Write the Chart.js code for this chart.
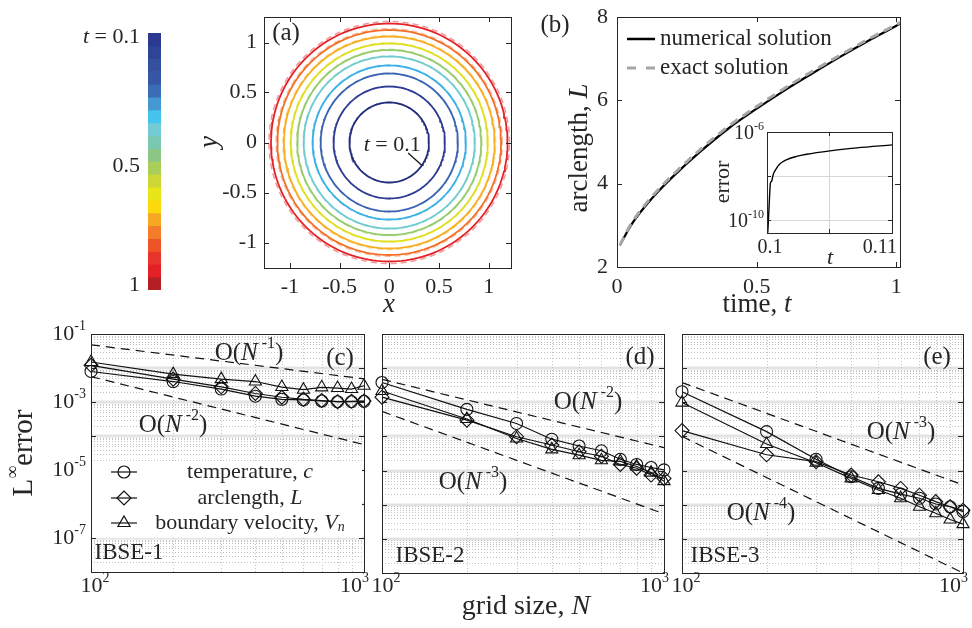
<!DOCTYPE html>
<html>
<head>
<meta charset="utf-8">
<script src="https://cdn.jsdelivr.net/npm/chart.js@4.4.0/dist/chart.umd.min.js"></script>
<style>
html, body { margin: 0; padding: 0; background: #fff; }
#wrap { position: relative; width: 972px; height: 628px; overflow: hidden; background: #fff; }
#wrap canvas { position: absolute; left: 0; top: 0; }
</style>
</head>
<body>
<div id="wrap">
  <canvas id="cbar" width="972" height="628"></canvas>
  <canvas id="panelA" width="972" height="628"></canvas>
  <canvas id="panelB" width="972" height="628"></canvas>
  <canvas id="inset" width="972" height="628"></canvas>
  <canvas id="panelC" width="972" height="628"></canvas>
  <canvas id="panelD" width="972" height="628"></canvas>
  <canvas id="panelE" width="972" height="628"></canvas>
</div>
<script>
// ---- data ----
// colorbar, t = 0.1 (top) .. 1 (bottom)
const cbColors = ['#2b3990', '#2e4496', '#32509e', '#3557a5', '#3a6db5', '#4499d3', '#45c5ee', '#73cbd8',
  '#7bc8b2', '#8bc784', '#a9cf5a', '#cbd835', '#e8e618', '#fcd90a', '#f7a823', '#f47d2a',
  '#ef5427', '#e8342b', '#e42027', '#b41f25'];
const cbTickPos = [0.3, 10.35, 19.6];
const cbTickText = [[['t', 'i'], [' = 0.1']], [['0.5']], [['1']]];

// (a) interface radius at t = 0.1, 0.2, ..., 1
const aRadius = [0.40, 0.56, 0.69, 0.77, 0.86, 0.925, 0.99, 1.06, 1.125, 1.19];
const aExactRadius = [0.40, 0.562, 0.693, 0.775, 0.866, 0.932, 0.998, 1.07, 1.138, 1.21];
const aColors = ['#222d7d', '#2e3c94', '#3a63b3', '#3ab0e6', '#6fcbcf', '#96cb6a', '#e0df1f', '#f8ad1f', '#f16f27', '#e42127'];
const aTicks = [-1, -0.5, 0, 0.5, 1];

// (b) arclength vs time
const bTime = [0.01, 0.05, 0.1, 0.15, 0.2, 0.3, 0.4, 0.5, 0.6, 0.7, 0.8, 0.9, 1.0, 1.013];
const bNumL = [2.52, 3.0, 3.45, 3.83, 4.17, 4.78, 5.33, 5.80, 6.24, 6.65, 7.05, 7.43, 7.79, 7.84];
const bExactL = [2.52, 3.03, 3.49, 3.87, 4.21, 4.83, 5.38, 5.85, 6.29, 6.70, 7.09, 7.47, 7.82, 7.87];
const bTicksX = [0, 0.5, 1];
const bTicksY = [2, 4, 6, 8];

// inset error
const insT = [0.10006, 0.10016, 0.10027, 0.10038, 0.10048, 0.10075, 0.10102, 0.10156, 0.10236, 0.10317, 0.10504, 0.10718, 0.11];
const insErr = [2.7e-11, 3.4e-10, 4.7e-9, 6.0e-9, 1.1e-8, 2.2e-8, 3.5e-8, 5.5e-8, 7.8e-8, 9.8e-8, 1.4e-7, 1.9e-7, 2.6e-7];

// (c)-(e) convergence
const gridN = [100, 200, 300, 400, 500, 600, 700, 800, 900, 1000];
const cTemp = [7.9e-3, 4.0e-3, 2.4e-3, 1.48e-3, 1.2e-3, 1.15e-3, 1.07e-3, 1.02e-3, 1.02e-3, 1.05e-3];
const cArc = [1.2e-2, 4.7e-3, 2.8e-3, 1.78e-3, 1.38e-3, 1.2e-3, 1.1e-3, 1.02e-3, 1.05e-3, 1.07e-3];
const cVel = [1.5e-2, 6.6e-3, 4.7e-3, 4.0e-3, 2.75e-3, 2.3e-3, 2.7e-3, 2.57e-3, 2.4e-3, 3.0e-3];
const dTemp = [3.8e-3, 6.2e-4, 2.4e-4, 8.3e-5, 5.25e-5, 3.8e-5, 2.14e-5, 1.51e-5, 1.23e-5, 1.05e-5];
const dArc = [1.41e-3, 3.0e-4, 9.8e-5, 5.6e-5, 3.55e-5, 2.63e-5, 1.51e-5, 1.17e-5, 7.4e-6, 5.9e-6];
const dVel = [2.14e-3, 3.24e-4, 8.7e-5, 4.17e-5, 2.82e-5, 2.0e-5, 1.86e-5, 1.32e-5, 8.7e-6, 4.9e-6];
const eTemp = [2.04e-3, 1.38e-4, 2.14e-5, 6.6e-6, 3.0e-6, 2.04e-6, 1.55e-6, 1.05e-6, 8.7e-7, 6.3e-7];
const eArc = [1.48e-4, 2.9e-5, 1.82e-5, 7.4e-6, 4.7e-6, 3.0e-6, 1.9e-6, 1.23e-6, 8.7e-7, 6.9e-7];
const eVel = [9.8e-4, 6.0e-5, 1.7e-5, 5.9e-6, 2.7e-6, 1.55e-6, 8.7e-7, 5.6e-7, 3.7e-7, 2.7e-7];
// reference slopes, value at N = 100 and N = 1000
const cRef1 = [4.8e-2, 4.8e-3];
const cRef2 = [5.6e-3, 5.6e-5];
const dRef1 = [4.7e-3, 4.7e-5];
const dRef2 = [5.4e-4, 5.4e-7];
const eRef1 = [3.8e-3, 3.8e-6];
const eRef2 = [1e-4, 1e-8];
const logYTicks = [1e-1, 1e-3, 1e-5, 1e-7];
const logYExp = ['-1', '-3', '-5', '-7'];
const logXTicks = [100, 1000];
const logXExp = ['2', '3'];

// ---- drawing helpers ----
const SERIF = '"Liberation Serif", "Times New Roman", serif';
const INK = '#262626';
const W = 972, H = 628;

function seg(ctx, x1, y1, x2, y2) {
  ctx.beginPath(); ctx.moveTo(x1, y1); ctx.lineTo(x2, y2); ctx.stroke();
}

// parts: [text, style]; style letters: i = italic, s = superscript, b = subscript
function txt(ctx, x, y, parts, size, align, opt) {
  opt = opt || {};
  ctx.save();
  ctx.translate(x, y);
  if (opt.rot) ctx.rotate(opt.rot);
  const segs = parts.map(p => {
    const st = p[1] || '';
    const small = st.indexOf('s') >= 0 || st.indexOf('b') >= 0;
    const fs = small ? Math.round(size * 0.62) : size;
    const font = (st.indexOf('i') >= 0 ? 'italic ' : '') + fs + 'px ' + SERIF;
    ctx.font = font;
    let dy = 0;
    if (st.indexOf('s') >= 0) dy = -size * 0.36;
    if (st.indexOf('b') >= 0) dy = size * 0.2;
    return { t: p[0], font: font, w: ctx.measureText(p[0]).width, dy: dy };
  });
  const total = segs.reduce((s, g) => s + g.w, 0);
  let cx = align === 'right' ? -total : align === 'center' ? -total / 2 : 0;
  ctx.fillStyle = opt.color || INK;
  ctx.textBaseline = 'middle';
  segs.forEach(g => { ctx.font = g.font; ctx.fillText(g.t, cx, g.dy); cx += g.w; });
  ctx.restore();
}

function frame(chart, xTicks, yTicks, len) {
  const { ctx, chartArea: a, scales } = chart;
  ctx.save();
  ctx.strokeStyle = INK;
  ctx.lineWidth = 1;
  xTicks.forEach(v => {
    const p = Math.round(scales.x.getPixelForValue(v)) + 0.5;
    seg(ctx, p, a.bottom, p, a.bottom - len);
    seg(ctx, p, a.top, p, a.top + len);
  });
  yTicks.forEach(v => {
    const p = Math.round(scales.y.getPixelForValue(v)) + 0.5;
    seg(ctx, a.left, p, a.left + len, p);
    seg(ctx, a.right, p, a.right - len, p);
  });
  ctx.strokeRect(Math.round(a.left) + 0.5, Math.round(a.top) + 0.5,
    Math.round(a.right - a.left), Math.round(a.bottom - a.top));
  ctx.restore();
}

function make(id, area, type, data, scales, plugins) {
  return new Chart(document.getElementById(id), {
    type: type,
    data: data,
    options: {
      responsive: false,
      animation: false,
      devicePixelRatio: 1,
      events: [],
      layout: { padding: { left: area[0], top: area[1], right: W - area[2], bottom: H - area[3] } },
      plugins: { legend: { display: false }, tooltip: { enabled: false } },
      scales: scales
    },
    plugins: plugins || []
  });
}

function ring(r) {
  const pts = [];
  for (let k = 0; k <= 180; k++) {
    const th = k / 180 * 2 * Math.PI;
    pts.push({ x: r * Math.cos(th), y: r * Math.sin(th) });
  }
  return pts;
}

// ---- colorbar ----
make('cbar', [148, 33, 161, 290], 'bar', {
  labels: ['t'],
  datasets: cbColors.map(c => ({ data: [1], backgroundColor: c, borderWidth: 0, barPercentage: 1, categoryPercentage: 1 }))
}, {
  x: { display: false, stacked: true },
  y: { display: false, stacked: true, min: 0, max: 20, reverse: true }
}, [{
  id: 'cbLabels',
  afterDraw(chart) {
    const y = chart.scales.y;
    cbTickPos.forEach((v, i) => txt(chart.ctx, 140, y.getPixelForValue(v), cbTickText[i], 22, 'right'));
  }
}]);

// ---- (a) ----
const aSets = [];
aRadius.forEach((r, i) => aSets.push({
  data: ring(r), showLine: true, borderColor: aColors[i], borderWidth: 1.8, pointRadius: 0, tension: 0
}));
aExactRadius.forEach((r, i) => aSets.push({
  data: ring(r), showLine: true, borderColor: aColors[i] + '77', borderWidth: 1.5, borderDash: [6, 4], pointRadius: 0, tension: 0
}));
aSets.unshift({
  data: [{ x: 0.19, y: -0.105 }, { x: 0.33, y: -0.23 }], showLine: true, borderColor: '#111', borderWidth: 1.2, pointRadius: 0
});
make('panelA', [264, 17, 511, 268], 'scatter', { datasets: aSets }, {
  x: { type: 'linear', display: false, min: -1.26, max: 1.225 },
  y: { type: 'linear', display: false, min: -1.255, max: 1.255 }
}, [{
  id: 'aDecor',
  afterDraw(chart) {
    const { ctx, scales: { x, y } } = chart;
    frame(chart, aTicks, aTicks, 5);
    aTicks.forEach(v => {
      txt(ctx, x.getPixelForValue(v), 287, [[String(v)]], 22, 'center');
      txt(ctx, 257, y.getPixelForValue(v), [[String(v)]], 22, 'right');
    });
    txt(ctx, 286, 33, [['(a)']], 25, 'center');
    txt(ctx, x.getPixelForValue(0.03), y.getPixelForValue(-0.03), [['t', 'i'], [' = 0.1']], 22, 'center');
    txt(ctx, 389, 305, [['x', 'i']], 27, 'center');
    txt(ctx, 210, 142, [['y', 'i']], 27, 'center', { rot: -Math.PI / 2 });
  }
}]);

// ---- (b) ----
make('panelB', [617, 17, 900, 267], 'scatter', {
  datasets: [
    { data: bTime.map((t, i) => ({ x: t, y: bExactL[i] })), showLine: true, borderColor: '#a6a6a6', borderWidth: 3, borderDash: [9, 6], pointRadius: 0, cubicInterpolationMode: 'monotone' },
    { data: bTime.map((t, i) => ({ x: t, y: bNumL[i] })), showLine: true, borderColor: '#000', borderWidth: 2.2, pointRadius: 0, cubicInterpolationMode: 'monotone' }
  ]
}, {
  x: { type: 'linear', display: false, min: 0, max: 1.013 },
  y: { type: 'linear', display: false, min: 2, max: 8 }
}, [{
  id: 'bDecor',
  afterDraw(chart) {
    const { ctx, scales: { x, y } } = chart;
    frame(chart, bTicksX, bTicksY, 5);
    bTicksX.forEach(v => txt(ctx, x.getPixelForValue(v), 287, [[String(v)]], 22, 'center'));
    bTicksY.forEach(v => txt(ctx, 608, y.getPixelForValue(v), [[String(v)]], 22, 'right'));
    txt(ctx, 555, 25, [['(b)']], 25, 'center');
    txt(ctx, 757, 305, [['time, '], ['t', 'i']], 27, 'center');
    txt(ctx, 580, 148, [['arclength, '], ['L', 'i']], 27, 'center', { rot: -Math.PI / 2 });
    ctx.save();
    ctx.strokeStyle = '#000'; ctx.lineWidth = 2.5;
    seg(ctx, 627, 39, 655, 39);
    ctx.strokeStyle = '#a6a6a6'; ctx.lineWidth = 3; ctx.setLineDash([9, 10]);
    seg(ctx, 627, 68, 656, 68);
    ctx.restore();
    txt(ctx, 660, 39, [['numerical solution']], 23, 'left');
    txt(ctx, 660, 68, [['exact solution']], 23, 'left');
  }
}]);

// ---- inset ----
make('inset', [767, 132, 892, 233], 'scatter', {
  datasets: [{ data: insT.map((t, i) => ({ x: t, y: insErr[i] })), showLine: true, borderColor: '#000', borderWidth: 1.4, pointRadius: 0, cubicInterpolationMode: 'monotone' }]
}, {
  x: { type: 'linear', display: false, min: 0.1, max: 0.11 },
  y: { type: 'logarithmic', display: false, min: 2.63e-11, max: 1e-6 }
}, [{
  id: 'insDecor',
  beforeDatasetsDraw(chart) {
    const { ctx, chartArea: a, scales: { x, y } } = chart;
    ctx.save();
    ctx.fillStyle = '#fff';
    ctx.fillRect(a.left, a.top, a.right - a.left, a.bottom - a.top);
    ctx.strokeStyle = '#d6d6d6'; ctx.lineWidth = 1;
    [1e-8, 1e-10].forEach(v => { const p = Math.round(y.getPixelForValue(v)) + 0.5; seg(ctx, a.left, p, a.right, p); });
    const px = Math.round(x.getPixelForValue(0.105)) + 0.5;
    seg(ctx, px, a.top, px, a.bottom);
    ctx.restore();
  },
  afterDraw(chart) {
    const { ctx, scales: { x, y } } = chart;
    frame(chart, [0.1, 0.105, 0.11], [1e-6, 1e-8, 1e-10], 4);
    txt(ctx, 764, y.getPixelForValue(1e-6) + 2, [['10'], ['-6', 's']], 20, 'right');
    txt(ctx, 764, y.getPixelForValue(1e-10) + 2, [['10'], ['-10', 's']], 20, 'right');
    txt(ctx, x.getPixelForValue(0.1) + 3, 248, [['0.1']], 20, 'center');
    txt(ctx, 897, 248, [['0.11']], 20, 'right');
    txt(ctx, 830, 258, [['t', 'i']], 22, 'center');
    txt(ctx, 723, 182, [['error']], 22, 'center', { rot: -Math.PI / 2 });
  }
}]);

// ---- (c)-(e) ----
function logGrid(chart) {
  const { ctx, chartArea: a, scales: { x, y } } = chart;
  ctx.save();
  ctx.strokeStyle = '#e3e3e3'; ctx.lineWidth = 3;
  for (let k = -7; k <= -2; k++) {
    const py = Math.round(y.getPixelForValue(Math.pow(10, k)));
    seg(ctx, a.left, py, a.right, py);
  }
  ctx.strokeStyle = '#c2c2c2'; ctx.lineWidth = 1; ctx.setLineDash([1, 2]);
  for (let m = 2; m <= 9; m++) {
    const px = Math.round(x.getPixelForValue(m * 100)) + 0.5;
    seg(ctx, px, a.top, px, a.bottom);
  }
  for (let k = -8; k < -1; k++) {
    for (let m = 2; m <= 9; m++) {
      const py = Math.round(y.getPixelForValue(m * Math.pow(10, k))) + 0.5;
      seg(ctx, a.left, py, a.right, py);
    }
  }
  ctx.setLineDash([]);
  ctx.strokeStyle = INK;
  for (let k = -7; k <= -2; k++) {
    const py = Math.round(y.getPixelForValue(Math.pow(10, k))) + 0.5;
    seg(ctx, a.left, py, a.left + 5, py);
    seg(ctx, a.right, py, a.right - 5, py);
  }
  ctx.restore();
}

const markerStyles = ['circle', 'rectRot', 'triangle'];
const markerSizes = [6, 7, 7];

function logPanel(id, area, series, refs, notes, extra) {
  const sets = [];
  series.forEach((vals, i) => sets.push({
    data: gridN.map((n, j) => ({ x: n, y: vals[j] })), showLine: true, borderColor: '#111', borderWidth: 1.2,
    pointStyle: markerStyles[i], pointRadius: markerSizes[i], pointBorderColor: '#111', pointBorderWidth: 1.1,
    pointBackgroundColor: 'rgba(0,0,0,0)', clip: false
  }));
  refs.forEach(r => sets.push({
    data: [{ x: 100, y: r[0] }, { x: 1000, y: r[1] }], showLine: true, borderColor: '#111', borderWidth: 1.2,
    borderDash: [9, 6], pointRadius: 0
  }));
  return make(id, area, 'scatter', { datasets: sets }, {
    x: { type: 'logarithmic', display: false, min: 100, max: 1000 },
    y: { type: 'logarithmic', display: false, min: 1e-8, max: 1e-1 }
  }, [{
    id: 'logDecor',
    beforeDatasetsDraw(chart) {
      logGrid(chart);
      if (extra && extra.before) extra.before(chart);
    },
    afterDraw(chart) {
      const { ctx, scales: { x } } = chart;
      frame(chart, [], [], 0);
      logXTicks.forEach((v, i) => {
        const px = x.getPixelForValue(v);
        if (i === 0) txt(ctx, px - 10.5, 586, [['10'], [logXExp[i], 's']], 22, 'left');
        else txt(ctx, px + 5, 586, [['10'], [logXExp[i], 's']], 22, 'right');
      });
      notes.forEach(nt => txt(ctx, nt.x, nt.y, nt.p, nt.s, 'center'));
      if (extra && extra.after) extra.after(chart);
    }
  }]);
}

const legendText = [
  [['temperature, '], ['c', 'i']],
  [['arclength, '], ['L', 'i']],
  [['boundary velocity, '], ['V', 'i'], ['n', 'bi']]
];
const legendRows = [472, 498, 523];

logPanel('panelC', [91, 334, 364, 572], [cTemp, cArc, cVel], [cRef1, cRef2], [
  { x: 249, y: 353, p: [['O('], ['N', 'i'], [' -1', 's'], [')']], s: 25 },
  { x: 173, y: 425, p: [['O('], ['N', 'i'], [' -2', 's'], [')']], s: 25 },
  { x: 340, y: 358, p: [['(c)']], s: 25 },
  { x: 129, y: 553, p: [['IBSE-1']], s: 23 }
], {
  before(chart) {
    chart.ctx.save();
    chart.ctx.fillStyle = '#fff';
    chart.ctx.fillRect(92, 461, 270, 77);
    chart.ctx.restore();
  },
  after(chart) {
    const { ctx, scales: { y } } = chart;
    logYTicks.forEach((v, i) => txt(ctx, 86, y.getPixelForValue(v), [['10'], [logYExp[i], 's']], 22, 'right'));
    txt(ctx, 24, 453, [['L'], ['\u221e', 's'], ['error']], 29, 'center', { rot: -Math.PI / 2 });
    legendRows.forEach((ry, i) => {
      ctx.save();
      ctx.strokeStyle = '#111'; ctx.lineWidth = 1.2;
      seg(ctx, 111, ry, 137, ry);
      ctx.fillStyle = 'rgba(0,0,0,0)';
      Chart.helpers.drawPoint(ctx, { pointStyle: markerStyles[i], radius: markerSizes[i], borderWidth: 1.1, rotation: 0 }, 124, ry);
      ctx.restore();
      txt(ctx, 250, ry, legendText[i], 22, 'center');
    });
  }
});

logPanel('panelD', [382, 334, 664, 573], [dTemp, dArc, dVel], [dRef1, dRef2], [
  { x: 588, y: 402, p: [['O('], ['N', 'i'], [' -2', 's'], [')']], s: 25 },
  { x: 473, y: 482, p: [['O('], ['N', 'i'], [' -3', 's'], [')']], s: 25 },
  { x: 640, y: 357, p: [['(d)']], s: 25 },
  { x: 430, y: 556, p: [['IBSE-2']], s: 23 }
], {
  after(chart) {
    txt(chart.ctx, 526, 607, [['grid size, '], ['N', 'i']], 28, 'center');
  }
});

logPanel('panelE', [682, 334, 963, 573], [eTemp, eArc, eVel], [eRef1, eRef2], [
  { x: 901, y: 432, p: [['O('], ['N', 'i'], [' -3', 's'], [')']], s: 25 },
  { x: 761, y: 513, p: [['O('], ['N', 'i'], [' -4', 's'], [')']], s: 25 },
  { x: 937, y: 357, p: [['(e)']], s: 25 },
  { x: 725, y: 556, p: [['IBSE-3']], s: 23 }
]);
</script>
</body>
</html>
